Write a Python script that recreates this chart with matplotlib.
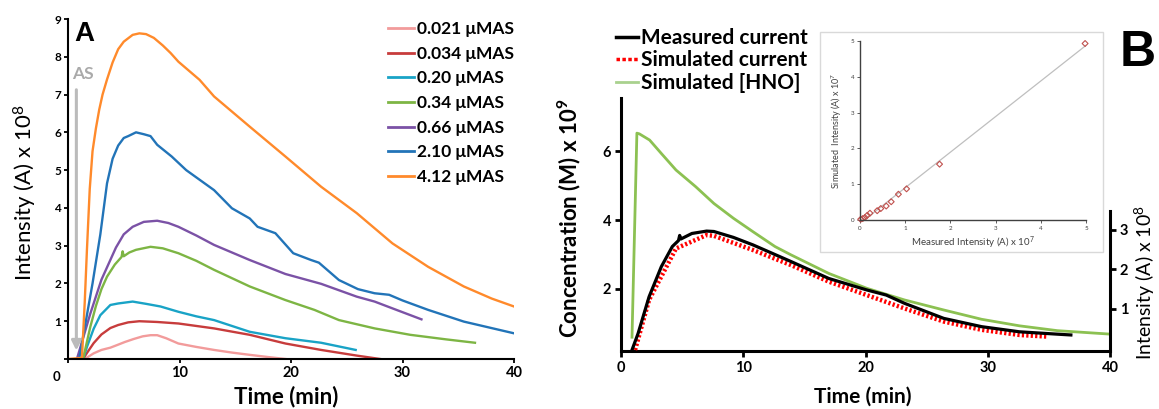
import matplotlib
matplotlib.use("Agg")
import matplotlib.pyplot as plt
import numpy as np
from matplotlib.patches import Rectangle

plt.rcParams['font.family'] = ['Lato', 'DejaVu Sans']
plt.rcParams['mathtext.default'] = 'regular'

# ---------------- Panel A data ----------------
a_labels = ['0.021 \u03bcMAS', '0.034 \u03bcMAS', '0.20 \u03bcMAS', '0.34 \u03bcMAS',
            '0.66 \u03bcMAS', '2.10 \u03bcMAS', '4.12 \u03bcMAS']
a_colors = ['#F29B9B', '#C73C3C', '#19A3C6', '#7DB544', '#7B52A6', '#2274B8', '#FF8A2B']

pink_t = [1.5, 2.3, 3.0, 3.8, 4.5, 5.1, 5.9, 6.7, 7.4, 8.0, 8.8, 9.9, 11.5, 13.1, 14.7,
          16.3, 18.0, 19.5]
pink_y = [0, 0.15, 0.24, 0.3, 0.38, 0.45, 0.53, 0.6, 0.63, 0.63, 0.55, 0.41, 0.32, 0.24,
          0.17, 0.11, 0.05, 0.0]
red_t = [1.35, 1.7, 2.3, 3.0, 3.8, 4.5, 5.4, 6.4, 8.0, 9.9, 13.1, 16.3, 19.5, 22.7, 25.9,
         28.0]
red_y = [0, 0.16, 0.42, 0.65, 0.82, 0.9, 0.97, 1.0, 0.98, 0.94, 0.81, 0.64, 0.41, 0.24,
         0.09, 0.0]
cyan_t = [1.35, 1.7, 2.3, 2.9, 3.8, 4.5, 5.8, 7.0, 8.3, 9.9, 11.5, 13.1, 16.3, 19.5, 22.7,
          25.8]
cyan_y = [0, 0.32, 0.8, 1.16, 1.43, 1.47, 1.52, 1.46, 1.39, 1.25, 1.13, 1.03, 0.72, 0.55,
          0.43, 0.24]
green_t = [1.35, 2.0, 2.5, 3.0, 3.5, 4.2, 4.8, 4.9, 5.0, 5.5, 6.1, 7.4, 8.5, 9.9, 11.5,
           13.1, 16.3, 19.5, 22.1, 24.3, 27.5, 30.7, 33.9, 36.5]
green_y = [0, 0.85, 1.4, 1.85, 2.18, 2.5, 2.7, 2.85, 2.72, 2.82, 2.89, 2.97, 2.93, 2.8,
           2.6, 2.36, 1.92, 1.56, 1.3, 1.03, 0.81, 0.64, 0.52, 0.43]
purple_t = [0.8, 2.0, 3.0, 4.3, 5.0, 5.8, 6.8, 8.0, 9.0, 9.9, 11.5, 13.1, 16.3, 19.5,
            22.7, 25.9, 27.5, 29.1, 31.7]
purple_y = [0, 1.2, 2.1, 2.95, 3.3, 3.5, 3.63, 3.66, 3.6, 3.5, 3.27, 3.02, 2.62, 2.25,
            1.99, 1.65, 1.52, 1.34, 1.05]
blue_t = [1.0, 1.6, 2.2, 2.9, 3.5, 4.0, 4.5, 5.0, 5.4, 6.1, 6.8, 7.4, 8.0, 9.3, 10.6,
          13.1, 14.7, 16.3, 17.0, 18.6, 20.2, 21.8, 22.5, 24.3, 26.0, 27.5, 28.8, 30.0,
          32.3, 35.5, 40.0]
blue_y = [0, 1.0, 2.0, 3.3, 4.65, 5.3, 5.65, 5.85, 5.9, 6.0, 5.95, 5.9, 5.67, 5.36, 5.0,
          4.47, 3.99, 3.72, 3.5, 3.33, 2.8, 2.62, 2.55, 2.09, 1.85, 1.74, 1.7, 1.55, 1.30,
          0.99, 0.68]
orange_t = [0, 1.25, 1.5, 1.7, 1.95, 2.2, 2.5, 2.8, 3.1, 3.5, 4.0, 4.5, 5.0, 5.8, 6.4, 7.0,
            7.7, 8.5, 9.2, 9.9, 11.8, 13.1, 16.3, 19.5, 22.7, 25.9, 29.1, 32.3, 35.5, 38.0,
            40.0]
orange_y = [0, 0.03, 1.5, 2.9, 4.5, 5.5, 6.1, 6.6, 7.0, 7.4, 7.85, 8.2, 8.4, 8.58, 8.62,
            8.6, 8.5, 8.3, 8.1, 7.87, 7.39, 6.95, 6.15, 5.36, 4.56, 3.86, 3.06, 2.44, 1.92,
            1.6, 1.39]
a_series = [(pink_t, pink_y), (red_t, red_y), (cyan_t, cyan_y), (green_t, green_y),
            (purple_t, purple_y), (blue_t, blue_y), (orange_t, orange_y)]
a_xticks = [0, 10, 20, 30, 40]
a_yticks = [0, 1, 2, 3, 4, 5, 6, 7, 8, 9]
as_time = 0.75

# ---------------- Panel B data ----------------
hno_t = [0.9, 1.3, 1.5, 2.34, 3.3, 4.5, 6.1, 7.6, 9.2, 10.8, 12.6, 13.9, 17.0, 20.1, 23.2,
         26.4, 29.5, 32.6, 35.7, 40.0]
hno_y = [0.6, 6.52, 6.5, 6.32, 5.93, 5.45, 4.97, 4.48, 4.05, 3.66, 3.23, 2.99, 2.45, 2.02,
         1.68, 1.39, 1.12, 0.93, 0.79, 0.69]
meas_t = [0.9, 1.4, 2.3, 3.3, 4.2, 4.7, 4.8, 4.9, 5.8, 7.0, 7.6, 9.2, 10.8, 13.9, 17.0,
          20.1, 21.7, 23.2, 26.4, 29.5, 32.6, 35.7, 36.8]
meas_y = [-0.05, 0.37, 1.30, 2.06, 2.57, 2.72, 2.85, 2.76, 2.9, 2.96, 2.95, 2.8, 2.61, 2.19,
          1.76, 1.47, 1.34, 1.13, 0.75, 0.54, 0.41, 0.35, 0.33]
sim_t = [1.15, 2.3, 4.5, 7.0, 7.6, 10.8, 13.9, 17.0, 20.1, 23.2, 26.4, 29.5, 32.6, 34.8]
sim_y = [-0.05, 1.22, 2.52, 2.86, 2.84, 2.48, 2.1, 1.68, 1.34, 1.0, 0.67, 0.46, 0.33, 0.29]
b_labels = ['Measured current', 'Simulated current', 'Simulated [HNO]']
b_xticks = [0, 10, 20, 30, 40]
b_left_yticks = [2, 4, 6]
b_right_yticks = [1, 2, 3]

# ---------------- Inset data ----------------
ins_meas = [0.015, 0.06, 0.11, 0.16, 0.22, 0.38, 0.46, 0.58, 0.69, 0.85, 1.03, 1.76, 4.98]
ins_sim = [0.02, 0.04, 0.07, 0.13, 0.19, 0.26, 0.32, 0.39, 0.51, 0.72, 0.87, 1.56, 4.93]
ins_ticks = [0, 1, 2, 3, 4, 5]

W, H = 1159, 409
fig = plt.figure(figsize=(W / 100, H / 100), dpi=100)

def fx(px):
    return px / W

def fy(py):
    return 1 - py / H

# ---------------- Panel A ----------------
axA = fig.add_axes([fx(68), fy(359), fx(514) - fx(68), fy(19) - fy(359)])
for (t, y), c, lab in zip(a_series, a_colors, a_labels):
    axA.plot(t, y, color=c, lw=1.7, label=lab, solid_joinstyle='round')
axA.set_xlim(0, 40)
axA.set_ylim(0, 9)
for s in ['top', 'right']:
    axA.spines[s].set_visible(False)
for s in ['left', 'bottom']:
    axA.spines[s].set_linewidth(1.5)
axA.set_xticks(a_xticks)
axA.set_xticklabels([''] + [str(v) for v in a_xticks[1:]], fontsize=10.5, fontweight='bold')
axA.set_yticks(a_yticks)
axA.set_yticklabels([''] + [str(v) for v in a_yticks[1:]], fontsize=8.5, fontweight='bold')
axA.tick_params(length=3, width=1.3, pad=2)
axA.text(-0.025, -0.035, '0', transform=axA.transAxes, fontsize=9.5, fontweight='bold',
         ha='center', va='top')
fig.text(fx(286), fy(397), 'Time (min)', fontsize=16, fontweight='bold',
         ha='center', va='center')
fig.text(fx(25), fy(193), 'Intensity (A) x 10$^8$', fontsize=16, rotation=90,
         ha='center', va='center')
axA.annotate('', xy=(as_time, 0.15), xytext=(as_time, 7.2),
             arrowprops=dict(arrowstyle='-|>', color='#BBBBBB', lw=2.2, mutation_scale=14))
axA.text(as_time + 0.55, 7.55, 'AS', color='#AAAAAA', fontsize=12.5, fontweight='bold',
         ha='center', va='center')
axA.text(0.015, 0.995, 'A', transform=axA.transAxes, fontsize=20, fontweight='bold',
         family='Liberation Sans', ha='left', va='top')
legA = axA.legend(loc='upper left', bbox_to_anchor=(fx(388), fy(21)),
                  bbox_transform=fig.transFigure, frameon=False, handlelength=1.5,
                  handletextpad=0.15, labelspacing=0.5, borderpad=0, borderaxespad=0,
                  prop={'size': 12.5, 'weight': 'bold'})
for l in legA.get_lines():
    l.set_linewidth(2)

# ---------------- Panel B ----------------
axB = fig.add_axes([fx(621), fy(351), fx(1110) - fx(621), fy(98) - fy(351)])
axR = axB.twinx()
lh, = axB.plot(hno_t, hno_y, color='#8CC152', lw=2.0, zorder=2)
ls, = axR.plot(sim_t, sim_y, color='#FF0000', lw=3.2, linestyle=(0, (0.5, 0.5)), zorder=3)
lm, = axR.plot(meas_t, meas_y, color='black', lw=2.3, zorder=4)
axB.set_xlim(0, 40)
axB.set_ylim(0.2, 7.54)
axR.set_ylim(-0.076, 6.33)
axB.spines['top'].set_visible(False)
axR.spines['top'].set_visible(False)
axR.spines['left'].set_visible(False)
axR.spines['bottom'].set_visible(False)
axB.spines['right'].set_visible(False)
for s in ['left', 'bottom']:
    axB.spines[s].set_linewidth(2.2)
axR.spines['right'].set_linewidth(2.2)
axR.spines['right'].set_bounds(-0.076, 3.47)
axB.set_xticks(b_xticks)
axB.set_xticklabels([str(v) for v in b_xticks], fontsize=10.5, fontweight='bold')
axB.set_yticks(b_left_yticks)
axB.set_yticklabels([str(v) for v in b_left_yticks], fontsize=10.5, fontweight='bold')
axR.set_yticks(b_right_yticks)
axR.set_yticklabels([str(v) for v in b_right_yticks], fontsize=10.5, fontweight='bold')
axB.tick_params(length=4, width=2, pad=3)
axR.tick_params(length=4, width=2, pad=3)
fig.text(fx(863), fy(397), 'Time (min)', fontsize=15, fontweight='bold',
         ha='center', va='center')
fig.text(fx(569), fy(218), 'Concentration (M) x 10$^9$', fontsize=16, fontweight='bold',
         rotation=90, ha='center', va='center')
fig.text(fx(1145), fy(282), 'Intensity (A) x 10$^8$', fontsize=14, rotation=90,
         ha='center', va='center')
legB = fig.legend([lm, ls, lh], b_labels, loc='upper left',
                  bbox_to_anchor=(fx(616), fy(28)), frameon=False, handlelength=1.05,
                  handletextpad=0.15, labelspacing=0.12, borderpad=0, borderaxespad=0,
                  prop={'size': 15, 'weight': 'bold'})
legB.get_lines()[0].set_linewidth(2.5)
legB.get_lines()[1].set_linewidth(2.5)
legB.get_lines()[1].set_linestyle((0, (1, 0.7)))
legB.get_lines()[2].set_color('#A9D18E')

fig.text(fx(1120), fy(30), 'B', fontsize=36, fontweight='bold', family='Liberation Sans',
         ha='left', va='top')

# ---------------- Inset ----------------
box = Rectangle((fx(820), fy(252)), fx(1103) - fx(820), fy(32) - fy(252),
                transform=fig.transFigure, facecolor='white', edgecolor='#D9D9D9',
                lw=1.0, zorder=5)
fig.patches.append(box)
axI = fig.add_axes([fx(860), fy(220), fx(1086) - fx(860), fy(41) - fy(220)], zorder=6)
axI.patch.set_alpha(0)
coef = np.polyfit(ins_meas, ins_sim, 1)
xx = np.array([0, 5.0])
axI.plot(xx, np.polyval(coef, xx), color='#BFBFBF', lw=0.9, zorder=1)
axI.scatter(ins_meas, ins_sim, marker='D', s=9, facecolors='none', edgecolors='#C0504D',
            linewidths=0.8, zorder=2, clip_on=False)
axI.set_xlim(0, 5)
axI.set_ylim(0, 5)
for s in ['top', 'right']:
    axI.spines[s].set_visible(False)
for s in ['left', 'bottom']:
    axI.spines[s].set_linewidth(1.0)
    axI.spines[s].set_color('#404040')
axI.set_xticks(ins_ticks)
axI.set_yticks(ins_ticks)
axI.set_xticklabels([str(v) for v in ins_ticks], fontsize=4.5, color='#404040')
axI.set_yticklabels([str(v) for v in ins_ticks], fontsize=4.5, color='#404040')
axI.tick_params(length=2, width=0.6, pad=2, colors='#404040')
axI.set_xlabel('Measured Intensity (A) x 10$^7$', fontsize=7, color='#404040', labelpad=3)
axI.set_ylabel('Simulated  Intensity (A) x 10$^7$', fontsize=6.5, color='#404040', labelpad=5)

fig.savefig('out.png', dpi=100)
